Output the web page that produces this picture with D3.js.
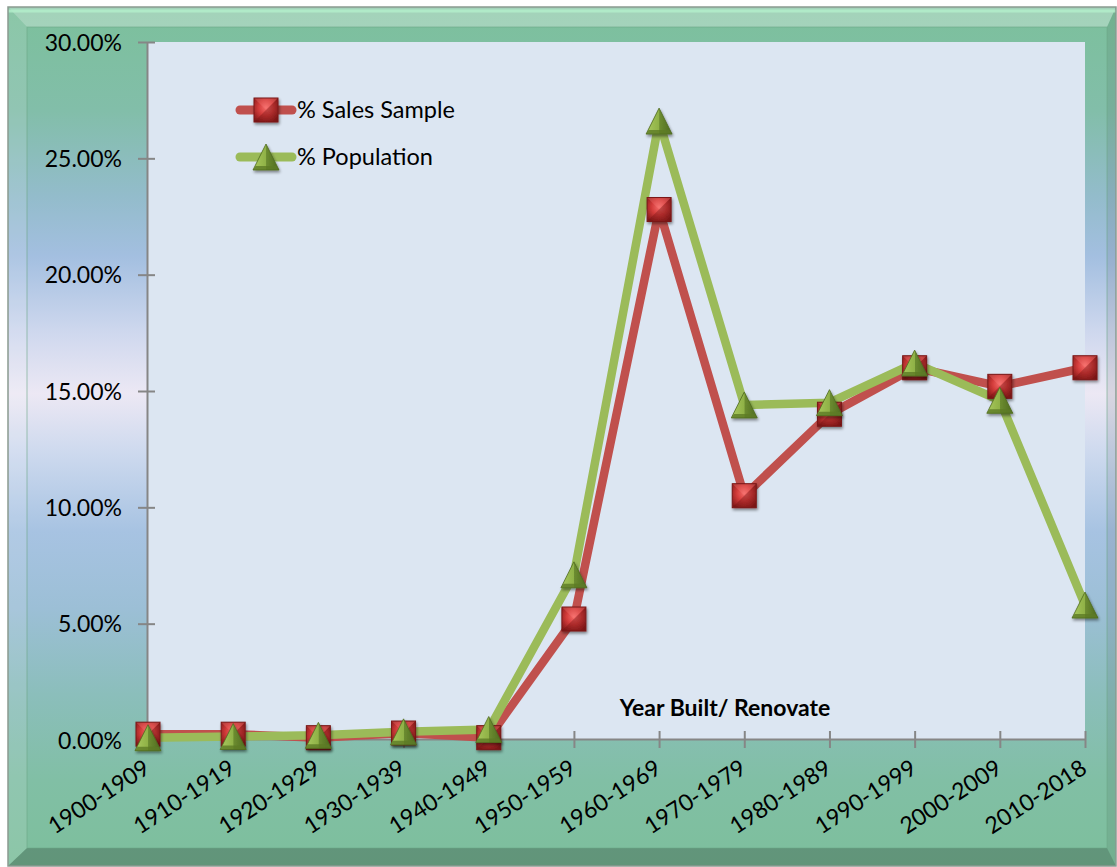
<!DOCTYPE html>
<html>
<head>
<meta charset="utf-8">
<script src="https://cdn.jsdelivr.net/npm/d3@7"></script>
<style>
  html, body { margin: 0; padding: 0; background: #ffffff; }
  svg { display: block; font-family: Lato, "Noto Sans", sans-serif; }
</style>
</head>
<body>
<svg id="chart" width="1117" height="867"></svg>
<script>
const categories = ['1900-1909','1910-1919','1920-1929','1930-1939','1940-1949','1950-1959',
  '1960-1969','1970-1979','1980-1989','1990-1999','2000-2009','2010-2018'];
const salesSample = [0.25, 0.25, 0.1, 0.3, 0.1, 5.2, 22.8, 10.5, 14.0, 16.0, 15.2, 16.0];
const population  = [0.1, 0.15, 0.2, 0.35, 0.45, 7.1, 26.6, 14.4, 14.5, 16.2, 14.6, 5.8];
const yTicks = [0, 5, 10, 15, 20, 25, 30];
const seriesNames = ['% Sales Sample', '% Population'];
const axisTitle = 'Year Built/ Renovate';

const svg = d3.select('#chart');
const defs = svg.append('defs');

// frame gradient
const fg = defs.append('linearGradient').attr('id','frameGrad')
  .attr('x1',0).attr('y1',0).attr('x2',0).attr('y2',1);
[[0,'#7cc09c'],[0.12,'#82bea9'],[0.22,'#93bccb'],[0.29,'#a3bfe0'],[0.38,'#cfd8ee'],
 [0.45,'#ece8f4'],[0.52,'#cdd9ee'],[0.61,'#a7c3e2'],[0.70,'#9cbfd6'],[0.80,'#8bbebb'],
 [0.90,'#81bfa5'],[1,'#7dbf9c']].forEach(([o,c]) => fg.append('stop').attr('offset',o).attr('stop-color',c));

// marker gradients
const rg = defs.append('radialGradient').attr('id','sqGrad').attr('cx','50%').attr('cy','40%').attr('r','70%');
rg.append('stop').attr('offset',0).attr('stop-color','#f46a68');
rg.append('stop').attr('offset',0.45).attr('stop-color','#d23b3a');
rg.append('stop').attr('offset',1).attr('stop-color','#7e1616');

const tg = defs.append('linearGradient').attr('id','triGrad').attr('x1',0).attr('y1',0).attr('x2',1).attr('y2',0);
tg.append('stop').attr('offset',0).attr('stop-color','#a9c95e');
tg.append('stop').attr('offset',0.5).attr('stop-color','#8fb146');
tg.append('stop').attr('offset',0.52).attr('stop-color','#6c8c30');
tg.append('stop').attr('offset',1).attr('stop-color','#4e6a20');

const sh = defs.append('filter').attr('id','shadow').attr('x','-50%').attr('y','-50%').attr('width','200%').attr('height','200%');
sh.append('feGaussianBlur').attr('in','SourceAlpha').attr('stdDeviation',1.6).attr('result','b');
sh.append('feOffset').attr('in','b').attr('dx',1).attr('dy',2).attr('result','o');
sh.append('feComponentTransfer').attr('in','o').attr('result','o2')
  .append('feFuncA').attr('type','linear').attr('slope',0.45);
const fm = sh.append('feMerge');
fm.append('feMergeNode').attr('in','o2');
fm.append('feMergeNode').attr('in','SourceGraphic');

// frame
const fx0 = 8, fy0 = 7, fx1 = 1116, fy1 = 866;
const ix0 = 27, iy0 = 27, ix1 = 1107, iy1 = 848;
svg.append('rect').attr('x',fx0).attr('y',fy0).attr('width',fx1-fx0).attr('height',fy1-fy0)
  .attr('fill','url(#frameGrad)');
const bevel = (pts, fill, op) => svg.append('polygon').attr('points', pts.map(p=>p.join(',')).join(' '))
  .attr('fill', fill).attr('opacity', op);
bevel([[fx0,fy0],[fx1,fy0],[ix1,iy0],[ix0,iy0]], '#ffffff', 0.3);
bevel([[fx0,fy0],[ix0,iy0],[ix0,iy1],[fx0,fy1]], '#ffffff', 0.12);
bevel([[fx1,fy0],[fx1,fy1],[ix1,iy1],[ix1,iy0]], '#000000', 0.08);
bevel([[fx0,fy1],[ix0,iy1],[ix1,iy1],[fx1,fy1]], '#000000', 0.22);
svg.append('line').attr('x1',fx0).attr('x2',fx1).attr('y1',fy0+4).attr('y2',fy0+4)
  .attr('stroke','#b4f0cc').attr('stroke-width',3).attr('opacity',0.8);
svg.append('rect').attr('x',fx0).attr('y',fy0).attr('width',fx1-fx0).attr('height',fy1-fy0)
  .attr('fill','none').attr('stroke','#8a9a90').attr('stroke-width',1.5);
svg.append('rect').attr('x',ix0).attr('y',iy0).attr('width',ix1-ix0).attr('height',iy1-iy0)
  .attr('fill','none').attr('stroke','#6aa886').attr('stroke-width',1).attr('opacity',0.6);

// scales
const x = d3.scalePoint().domain(categories).range([148, 1085]);
const y = d3.scaleLinear().domain([0, 30]).range([740, 42]);

// plot area
svg.append('rect').attr('x',148).attr('y',42).attr('width',1085-148).attr('height',740-42)
  .attr('fill','#dce6f2');

// axes
const yAxis = svg.append('g').attr('transform','translate(147,0)')
  .call(d3.axisLeft(y).tickValues(yTicks).tickFormat(d => d.toFixed(2) + '%').tickSizeOuter(0));
yAxis.select('.domain').attr('stroke','#868686').attr('stroke-width',2);
yAxis.selectAll('.tick line').attr('x1',8).attr('x2',-9).attr('stroke','#868686').attr('stroke-width',2);
yAxis.selectAll('.tick text').attr('x',-25).attr('dy','0.36em').attr('font-size','23px')
  .attr('font-family','Lato, sans-serif').attr('fill','#000');

const xAxis = svg.append('g').attr('transform','translate(0,739)')
  .call(d3.axisBottom(x).tickSizeOuter(0));
xAxis.select('.domain').attr('stroke','#868686').attr('stroke-width',2);
xAxis.selectAll('.tick line').attr('y1',-8).attr('y2',9).attr('stroke','#868686').attr('stroke-width',2);
xAxis.selectAll('.tick text').attr('y',0).attr('dy',0).attr('font-size','23px')
  .attr('font-family','Lato, sans-serif').attr('fill','#000')
  .attr('text-anchor','end')
  .attr('transform','translate(3,33) rotate(-33)');

// axis title
svg.append('text').attr('x',725).attr('y',716).attr('text-anchor','middle')
  .attr('font-weight','bold').attr('font-size','23px').attr('fill','#000').text(axisTitle);

// lines
const line = d3.line().x((d,i) => x(categories[i])).y(d => y(d));
const colors = ['#c0504d', '#9bbb59'];
[salesSample, population].forEach((s, k) => {
  svg.append('path').datum(s).attr('d', line).attr('fill','none')
    .attr('stroke', colors[k]).attr('stroke-width', 8.5)
    .attr('stroke-linejoin','round').attr('stroke-linecap','butt');
});

function square(g, cx, cy) {
  const s = 12;
  const m = g.append('g').attr('filter','url(#shadow)');
  m.append('rect').attr('x',cx-s).attr('y',cy-s).attr('width',2*s).attr('height',2*s)
    .attr('fill','url(#sqGrad)');
  m.append('polygon').attr('points',`${cx-s},${cy+s} ${cx+s},${cy+s} ${cx},${cy}`).attr('fill','#6e1010').attr('opacity',0.35);
  m.append('polygon').attr('points',`${cx+s},${cy-s} ${cx+s},${cy+s} ${cx},${cy}`).attr('fill','#5a0c0c').attr('opacity',0.3);
  m.append('polygon').attr('points',`${cx-s},${cy-s} ${cx+s},${cy-s} ${cx},${cy}`).attr('fill','#ff8a88').attr('opacity',0.25);
  m.append('rect').attr('x',cx-s).attr('y',cy-s).attr('width',2*s).attr('height',2*s)
    .attr('fill','none').attr('stroke','#7a1818').attr('stroke-width',1);
}
function triangle(g, cx, cy) {
  const w = 13, h = 13;
  const m = g.append('g').attr('filter','url(#shadow)');
  m.append('polygon').attr('points',`${cx},${cy-h} ${cx+w},${cy+h} ${cx-w},${cy+h}`)
    .attr('fill','url(#triGrad)');
  m.append('polygon').attr('points',`${cx-w},${cy+h} ${cx+w},${cy+h} ${cx+w*0.8},${cy+h-4} ${cx-w*0.8},${cy+h-4}`)
    .attr('fill','#5c7a26').attr('opacity',0.8);
  m.append('polygon').attr('points',`${cx},${cy-h} ${cx+w},${cy+h} ${cx-w},${cy+h}`)
    .attr('fill','none').attr('stroke','#4f6b1f').attr('stroke-width',0.8);
}

const mk0 = svg.append('g');
salesSample.forEach((v,i) => square(mk0, x(categories[i]), y(v)));
const mk1 = svg.append('g');
population.forEach((v,i) => triangle(mk1, x(categories[i]), y(v)));

// legend
const legend = svg.append('g');
[[110, 0], [157, 1]].forEach(([ly, k]) => {
  legend.append('line').attr('x1',240).attr('x2',292).attr('y1',ly).attr('y2',ly)
    .attr('stroke', colors[k]).attr('stroke-width',9).attr('stroke-linecap','round');
  if (k === 0) square(legend, 266, ly); else triangle(legend, 266, ly);
  legend.append('text').attr('x',297).attr('y',ly).attr('dy','0.36em')
    .attr('font-size','23.5px').attr('fill','#000').text(seriesNames[k]);
});
</script>
</body>
</html>
